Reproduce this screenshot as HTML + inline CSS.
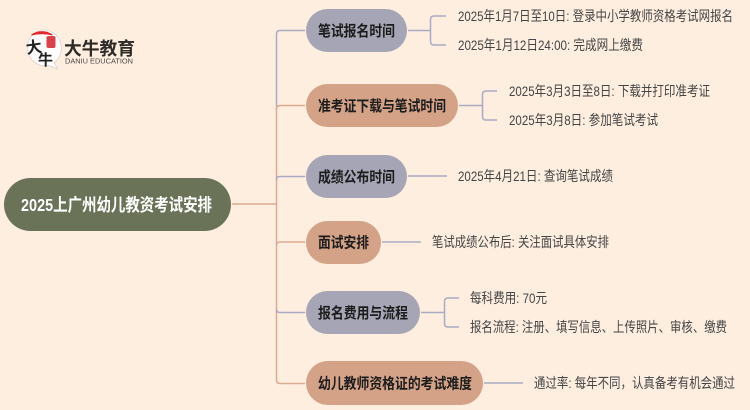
<!DOCTYPE html>
<html lang="zh-CN">
<head>
<meta charset="utf-8">
<style>
html,body{margin:0;padding:0;background:#feeee0;width:750px;height:410px;overflow:hidden}
svg{display:block}
text{font-family:"Liberation Sans","Noto Sans CJK SC",sans-serif;dominant-baseline:alphabetic}
.n{font-size:15px;font-weight:700;fill:#1c1c1c}
.t{font-size:14px;fill:#444}
</style>
</head>
<body>
<svg width="750" height="410" viewBox="0 0 750 410" xmlns="http://www.w3.org/2000/svg">
<defs><filter id="b" x="-5%" y="-5%" width="110%" height="110%"><feGaussianBlur stdDeviation="0.3"/></filter></defs>
<rect width="750" height="410" fill="#feeee0"/>
<g filter="url(#b)">
<g fill="none" stroke-width="1.5">
<path d="M232 204H276" stroke="#dcaa90"/>
<path d="M276.500 106V34Q276.500 30.500 280 30.500H305" stroke="#a9aac4"/>
<path d="M276.500 106V380Q276.500 383.500 280 383.500H305" stroke="#dcaa90"/>
<path d="M276.500 109Q276.500 105.500 280 105.500H305" stroke="#dcaa90"/>
<path d="M276.500 180Q276.500 176.500 280 176.500H305" stroke="#a9aac4"/>
<path d="M276.500 245Q276.500 242 280 242H305" stroke="#dcaa90"/>
<path d="M276.500 309Q276.500 312.500 280 312.500H305" stroke="#a9aac4"/>
<g stroke="#a9aac4">
<path d="M408 30.500H430.500M446 16H434Q430.500 16 430.500 19.500V41.500Q430.500 45 434 45H446"/>
<path d="M459 105.500H482.500M497 91H486Q482.500 91 482.500 94.500V116.500Q482.500 120 486 120H497"/>
<path d="M408 176H447"/>
<path d="M382 242H421"/>
<path d="M421 312.500H444.500M459 298H448Q444.500 298 444.500 301.500V323.500Q444.500 327 448 327H459"/>
<path d="M484 383H523"/>
</g>
</g>
<rect x="4" y="178" width="227" height="53" rx="26.500" fill="#6b7358"/>
<text x="21" y="211" font-size="17.500" font-weight="700" fill="#fff" textLength="191" lengthAdjust="spacingAndGlyphs">2025上广州幼儿教资考试安排</text>
<rect x="306" y="9" width="101" height="43" rx="21.500" fill="#a5a5b5"/>
<rect x="306" y="84" width="152" height="43" rx="21.500" fill="#d4a287"/>
<rect x="306" y="155" width="101" height="43" rx="21.500" fill="#a5a5b5"/>
<rect x="306" y="221" width="75" height="43" rx="21.500" fill="#d4a287"/>
<rect x="306" y="291" width="114" height="43" rx="21.500" fill="#a5a5b5"/>
<rect x="306" y="361" width="177" height="44" rx="22" fill="#d4a287"/>
<text class="n" x="318" y="36" textLength="77" lengthAdjust="spacingAndGlyphs">笔试报名时间</text>
<text class="n" x="318" y="111" textLength="128" lengthAdjust="spacingAndGlyphs">准考证下载与笔试时间</text>
<text class="n" x="318" y="182" textLength="77" lengthAdjust="spacingAndGlyphs">成绩公布时间</text>
<text class="n" x="318" y="247.500" textLength="51" lengthAdjust="spacingAndGlyphs">面试安排</text>
<text class="n" x="318" y="318" textLength="90" lengthAdjust="spacingAndGlyphs">报名费用与流程</text>
<text class="n" x="318" y="388.500" textLength="154" lengthAdjust="spacingAndGlyphs">幼儿教师资格证的考试难度</text>
<text class="t" x="458" y="21" textLength="275" lengthAdjust="spacingAndGlyphs">2025年1月7日至10日: 登录中小学教师资格考试网报名</text>
<text class="t" x="458" y="50" textLength="185" lengthAdjust="spacingAndGlyphs">2025年1月12日24:00: 完成网上缴费</text>
<text class="t" x="509" y="96" textLength="201" lengthAdjust="spacingAndGlyphs">2025年3月3日至8日: 下载并打印准考证</text>
<text class="t" x="509" y="125" textLength="149" lengthAdjust="spacingAndGlyphs">2025年3月8日: 参加笔试考试</text>
<text class="t" x="458" y="181" textLength="155" lengthAdjust="spacingAndGlyphs">2025年4月21日: 查询笔试成绩</text>
<text class="t" x="432" y="247" textLength="177" lengthAdjust="spacingAndGlyphs">笔试成绩公布后: 关注面试具体安排</text>
<text class="t" x="470" y="303" textLength="77" lengthAdjust="spacingAndGlyphs">每科费用: 70元</text>
<text class="t" x="470" y="332" textLength="257" lengthAdjust="spacingAndGlyphs">报名流程: 注册、填写信息、上传照片、审核、缴费</text>
<text class="t" x="534" y="388" textLength="201" lengthAdjust="spacingAndGlyphs">通过率: 每年不同，认真备考有机会通过</text>
<path d="M42 30A18 18 0 1 0 49 65.500L57.500 69L54 62.500A18 18 0 0 0 42 30Z" fill="#fff" stroke="#d8d0cc" stroke-width="0.700"/>
<path d="M31.500 35A18 18 0 0 1 52.500 35Q42 32.500 31.500 35Z" fill="#e5262a" stroke="#e5262a" stroke-width="1"/>
<rect x="46.500" y="36" width="9" height="12" rx="2" fill="#dc4048"/>
<text x="26" y="53" font-size="16" font-weight="700" fill="#222" font-family="'Noto Serif CJK SC',serif" transform="rotate(-8 33 48)">大</text>
<text x="38" y="65" font-size="15" font-weight="700" fill="#222" font-family="'Noto Serif CJK SC',serif">牛</text>
<text x="64" y="55" font-size="18" font-weight="700" fill="#2d2a28" textLength="71" lengthAdjust="spacingAndGlyphs">大牛教育</text>
<text x="65" y="63.500" font-size="7.500" fill="#4a4644" textLength="68" lengthAdjust="spacingAndGlyphs">DANIU EDUCATION</text>
</g>
</svg>
</body>
</html>
